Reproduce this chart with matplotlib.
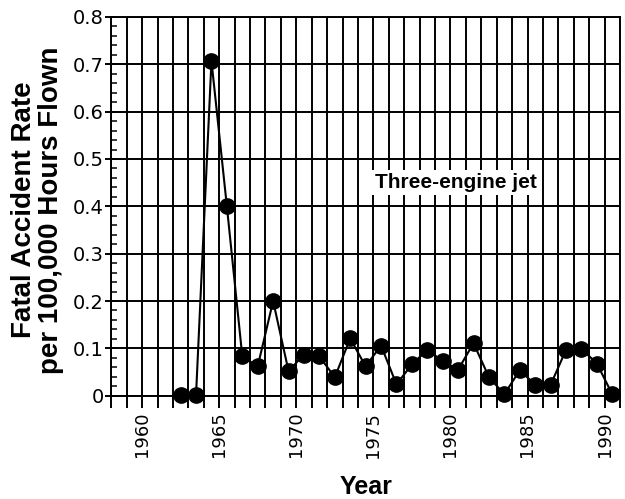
import matplotlib.pyplot as plt
from matplotlib.ticker import MultipleLocator, FixedLocator

plt.rcParams['font.family'] = ['Liberation Sans', 'DejaVu Sans']

# fatal accident rate per year (plotted at mid-year)
years = list(range(1962, 1991))
rates = [0.002, 0.002, 0.707, 0.400, 0.083, 0.062, 0.200, 0.052, 0.087, 0.083,
         0.039, 0.121, 0.062, 0.106, 0.024, 0.066, 0.097, 0.073, 0.055, 0.111,
         0.039, 0.003, 0.054, 0.023, 0.023, 0.097, 0.099, 0.068, 0.003]
year_labels = [1960, 1965, 1970, 1975, 1980, 1985, 1990]
y_labels = ['0', '0.1', '0.2', '0.3', '0.4', '0.5', '0.6', '0.7', '0.8']

fig = plt.figure(figsize=(6.25, 4.99), dpi=100)
ax = fig.add_axes([0.178, 0.207, 0.814, 0.759])

# mid-year positions
xs = [y + 0.5 for y in years]
ax.plot(xs, rates, color='black', lw=1.5, marker='o', markersize=11,
        clip_on=False, zorder=3)

ax.set_xlim(1958, 1991)
ax.set_ylim(0, 0.8)

# one grid line per year, labels every five
grid_years = list(range(1958, 1992))
ax.xaxis.set_major_locator(FixedLocator(grid_years))
ax.set_xticklabels([str(y) if y in year_labels else '' for y in grid_years],
                   rotation=90, fontsize=13, family='DejaVu Sans')
ax.tick_params(axis='x', direction='out', length=8.5, width=1.4, pad=3)

ax.set_yticks([i / 10 for i in range(9)])
ax.yaxis.set_minor_locator(MultipleLocator(0.02))
ax.set_yticklabels(y_labels, fontsize=14, family='DejaVu Sans')
ax.tick_params(axis='y', which='major', direction='inout', length=9, width=1.4, pad=1)
ax.tick_params(axis='y', which='minor', direction='in', length=4, width=1.1)

ax.grid(True, which='major', color='black', lw=1.4)
for s in ax.spines.values():
    s.set_linewidth(1.4)

ax.text(1980.35, 0.45, 'Three-engine jet', ha='center', va='center',
        fontsize=15, fontweight='bold',
        bbox=dict(facecolor='white', edgecolor='none', pad=2), zorder=4)

ax.set_xlabel('Year', fontsize=18, fontweight='bold', va='top')
ax.xaxis.set_label_coords(0.5, -0.21)
ax.set_ylabel('Fatal Accident Rate\nper 100,000 Hours Flown', fontsize=20,
              fontweight='bold', linespacing=1.05)
ax.yaxis.set_label_coords(-0.092, 0.49)

fig.savefig('out.png', dpi=100)
